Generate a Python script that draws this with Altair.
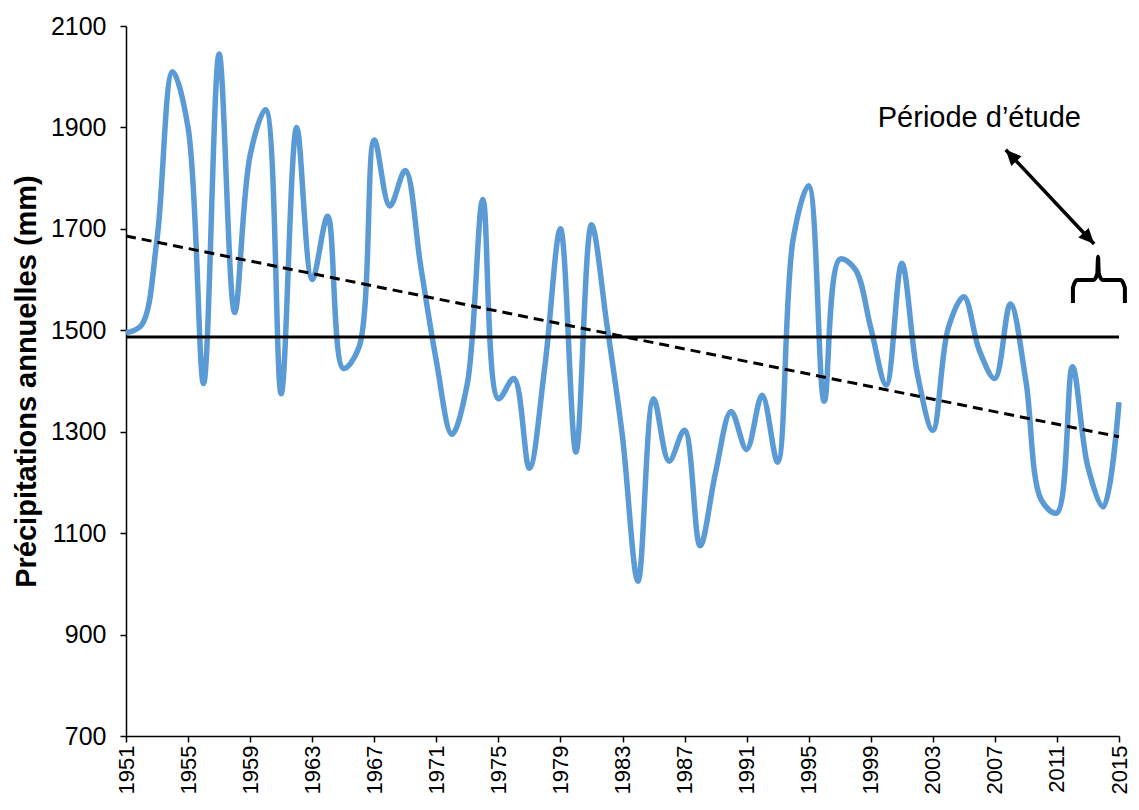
import altair as alt
import pandas as pd

years = list(range(1951, 2016))
precip = [1495, 1510, 1680, 2010, 1900, 1395, 2045, 1535, 1845, 1935,
          1375, 1900, 1600, 1725, 1425, 1465, 1875, 1745, 1815, 1625,
          1440, 1295, 1395, 1758, 1365, 1405, 1228, 1430, 1700, 1260,
          1708, 1510, 1290, 1005, 1365, 1242, 1303, 1075, 1220, 1340,
          1265, 1372, 1240, 1680, 1785, 1360, 1640, 1620, 1505, 1392,
          1632, 1415, 1303, 1505, 1566, 1460, 1405, 1552, 1400, 1165,
          1140, 1428, 1230, 1152, 1358]

mean_value = [1487]
trend_years = [1951, 2015]
trend_values = [1686, 1290]

tick_years = list(range(1951, 2016, 4))
y_ticks = list(range(700, 2101, 200))

annot_text = ["Période d’étude"]
annot_x = [2006.0]
annot_y = [1918]

arrow_x = [2007.7, 2013.4]
arrow_y = [1856, 1670]
arrow_angle = [316.7, 136.7]

brace_x = [2012.03, 2012.03, 2012.3, 2013.35, 2013.6, 2013.65,
           2013.7, 2013.95, 2015.1, 2015.38, 2015.38]
brace_y = [1554, 1584, 1599, 1599, 1612, 1645,
           1612, 1599, 1599, 1584, 1554]

FONT = "Liberation Sans"

df = pd.DataFrame({"year": years, "precip": precip})
df_mean = pd.DataFrame({"mean": mean_value})
df_trend = pd.DataFrame({"year": trend_years, "precip": trend_values})
df_text = pd.DataFrame({"year": annot_x, "precip": annot_y, "label": annot_text})
df_arrow = pd.DataFrame({"year": arrow_x, "precip": arrow_y, "angle": arrow_angle})
df_brace = pd.DataFrame({"year": brace_x, "precip": brace_y, "order": list(range(len(brace_x)))})

xscale = alt.Scale(domain=[1951, 2015], nice=False, zero=False)
yscale = alt.Scale(domain=[700, 2100], nice=False, zero=False)

x_enc = alt.X("year:Q", scale=xscale,
              axis=alt.Axis(values=tick_years, format="d", labelAngle=-90,
                            title=None, labelFontSize=22, labelPadding=3,
                            tickSize=6, grid=False))
y_enc = alt.Y("precip:Q", scale=yscale,
              axis=alt.Axis(values=y_ticks, format="d",
                            title="Précipitations annuelles (mm)",
                            titleFontSize=29, titleFontWeight="bold",
                            titleX=-100, titleY=355, titleAngle=270,
                            titleAlign="center", titleBaseline="middle",
                            labelFontSize=25, labelPadding=14,
                            tickSize=6, grid=False))

line = alt.Chart(df).mark_line(color="#5B9BD5", strokeWidth=5.5,
                               interpolate="catmull-rom").encode(x=x_enc, y=y_enc)

mean_rule = alt.Chart(df_mean).mark_rule(color="black", strokeWidth=3).encode(
    y=alt.Y("mean:Q", scale=yscale))

trend = alt.Chart(df_trend).mark_line(color="black", strokeWidth=3,
                                      strokeDash=[10, 6]).encode(
    x=alt.X("year:Q", scale=xscale), y=alt.Y("precip:Q", scale=yscale))

arrow_line = alt.Chart(df_arrow).mark_line(color="black", strokeWidth=3.5).encode(
    x=alt.X("year:Q", scale=xscale), y=alt.Y("precip:Q", scale=yscale))

arrow_heads = alt.Chart(df_arrow).mark_point(
    shape="M0,0L-0.5,1.1L0.5,1.1Z", filled=True, color="black", opacity=1,
    size=800).encode(
    x=alt.X("year:Q", scale=xscale), y=alt.Y("precip:Q", scale=yscale),
    angle=alt.Angle("angle:Q", scale=None))

brace = alt.Chart(df_brace).mark_line(color="black", strokeWidth=4,
                                      interpolate="monotone").encode(
    x=alt.X("year:Q", scale=xscale), y=alt.Y("precip:Q", scale=yscale),
    order="order:Q")

text = alt.Chart(df_text).mark_text(font=FONT, fontSize=29, color="black",
                                    align="center", baseline="middle").encode(
    x=alt.X("year:Q", scale=xscale), y=alt.Y("precip:Q", scale=yscale),
    text="label:N")

chart = alt.layer(line, mean_rule, trend, arrow_line, arrow_heads, brace, text).properties(
    width=993, height=710,
    autosize=alt.AutoSizeParams(type="none"),
    padding={"left": 118, "top": 18, "right": 12, "bottom": 58},
    background="white",
).configure_view(stroke=None).configure_axis(
    domainColor="black", domainWidth=1.5, tickColor="black", tickWidth=1.5,
    labelColor="black", titleColor="black", labelFont=FONT, titleFont=FONT,
)

chart.save("out.html", embed_options={"renderer": "svg", "actions": False})
